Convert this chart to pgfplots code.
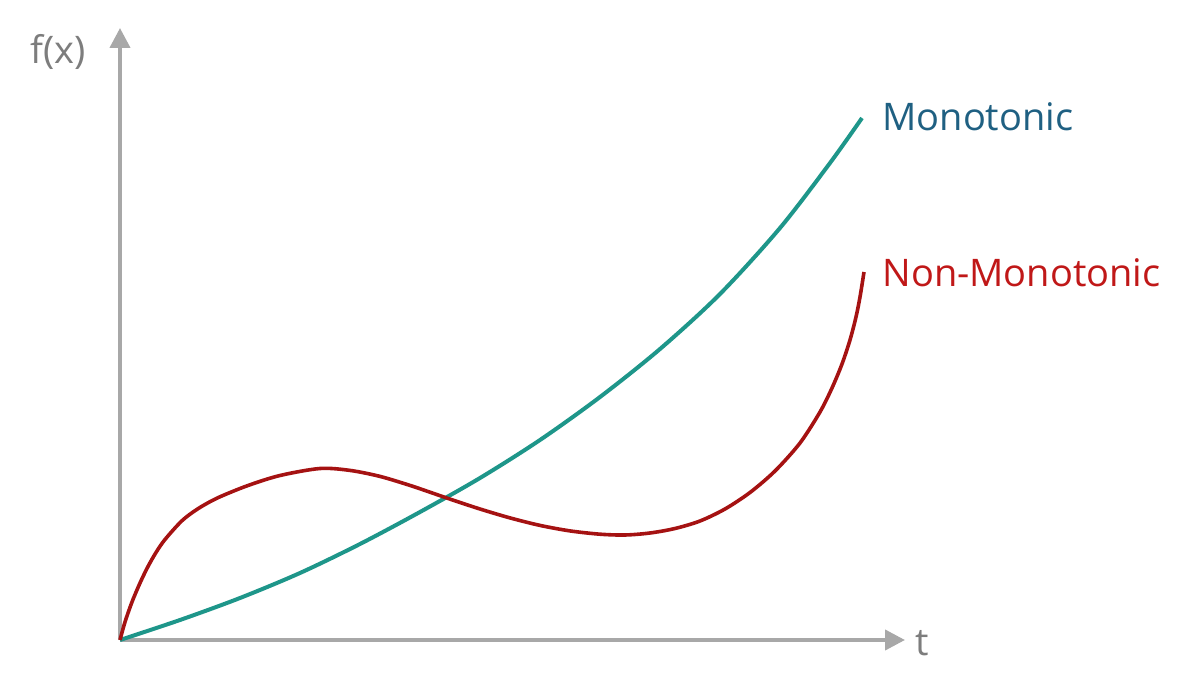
\documentclass[border=0pt]{standalone}
\usepackage{pgfplots}
\pgfplotsset{compat=1.18}
\usetikzlibrary{arrows.meta}
\usepackage{fontspec}
\setmainfont{Open Sans}
\definecolor{axgray}{RGB}{168,168,168}
\definecolor{labgray}{RGB}{125,125,125}
\definecolor{tealline}{RGB}{30,150,138}
\definecolor{redline}{RGB}{165,18,18}
\definecolor{montext}{RGB}{31,96,130}
\definecolor{nontext}{RGB}{192,24,24}
\begin{document}
\begin{tikzpicture}
\begin{axis}[
  scale only axis,
  width=392.5pt, height=306pt,
  xmin=0, xmax=785, ymin=0, ymax=612,
  axis lines=left,
  axis line style={axgray, line width=2pt, -{Triangle[length=10pt,width=10pt]}},
  xtick=\empty, ytick=\empty,
  clip=false,
]
\addplot[tealline, line width=2pt, smooth] coordinates {
 (0,0) (60,20) (120,42) (180,67) (240,96) (300,128) (360,162) (420,200)
 (480,243) (540,291) (600,346) (660,412) (710,477) (742,522)
};
\addplot[redline, line width=1.8pt, smooth] coordinates {
 (0,0) (5,18) (12,38) (20,57) (28,73.5) (36,87.5) (45,100.5) (62,119.3)
 (78,131.3) (98,142.3) (128,154.5) (160,164.5)
 (200,171.5) (230,169.6) (260,163.6) (290,154.6) (310,147.8) (330,140.9)
 (360,131) (390,122.1) (420,114.6) (450,109.1) (480,105.8) (505,105)
 (530,107) (555,111.5) (580,119) (605,131) (630,147.5) (655,169) (680,197)
 (700,228) (712,252) (722,276) (730,300) (736,323) (740,343) (744,368)
};
\node[anchor=west, font=\fontsize{19}{22}\selectfont, text=montext, inner sep=0pt] at (axis cs:762,523) {Monotonic};
\node[anchor=west, font=\fontsize{19}{22}\selectfont, text=nontext, inner sep=0pt] at (axis cs:762,367) {Non-Monotonic};
\node[font=\fontsize{19}{22}\selectfont, text=labgray, inner sep=0pt] at (axis cs:-62,588) {f(x)};
\node[font=\fontsize{19}{22}\selectfont, text=labgray, inner sep=0pt] at (axis cs:802,-3) {t};
\end{axis}
\path (-60pt,-25.5pt) rectangle ++(600pt,345.5pt);
\end{tikzpicture}
\end{document}
